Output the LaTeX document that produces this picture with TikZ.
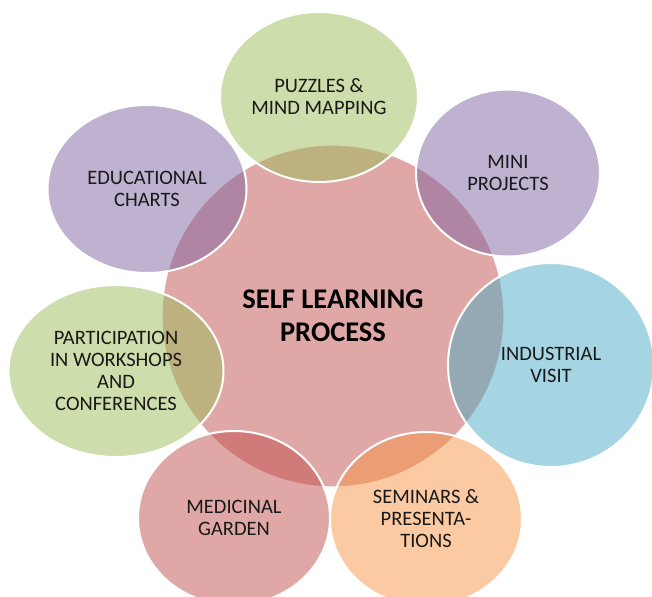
\documentclass[tikz,border=0pt]{standalone}
\usepackage{fontspec}
\setmainfont{Carlito}
\usetikzlibrary{shapes.geometric}

\definecolor{clRed}{HTML}{C0504D}
\definecolor{clGreen}{HTML}{9BBB59}
\definecolor{clPurple}{HTML}{8064A2}
\definecolor{clAqua}{HTML}{4BACC6}
\definecolor{clOrange}{HTML}{F79646}

\tikzset{
  hub/.style={circle, draw=white, line width=1.2pt, fill=clRed, fill opacity=0.5,
    text opacity=1, minimum size=342pt, inner sep=0pt, align=center, text=black,
    font=\bfseries\fontsize{28.5}{33}\selectfont},
  spoke/.style={ellipse, draw=white, line width=2pt, fill opacity=0.5,
    text opacity=1, inner sep=0pt, align=center, text=black!90,
    font=\fontsize{20.5}{22}\selectfont}
}

\begin{document}
\begin{tikzpicture}[x=1pt, y=-1pt]
  \useasboundingbox (0,0) rectangle (652,596);
  \clip (0,0) rectangle (652,596);

  % centre
  \node[hub] (self) at (333,316) {SELF LEARNING\\PROCESS};

  % surrounding activities
  \node[spoke, fill=clGreen, minimum width=198pt, minimum height=170pt] (puzzles) at (319,97) {PUZZLES \&\\MIND MAPPING};
  \node[spoke, fill=clPurple, minimum width=184pt, minimum height=167pt] (mini) at (508,173) {MINI\\PROJECTS};
  \node[spoke, fill=clAqua, minimum width=206pt, minimum height=204pt] (visit) at (551,365) {INDUSTRIAL\\VISIT};
  \node[spoke, fill=clOrange, minimum width=192pt, minimum height=174pt] (seminars) at (426,519) {SEMINARS \&\\PRESENTA-\\TIONS};
  \node[spoke, fill=clRed, minimum width=192pt, minimum height=174pt] (garden) at (234,518) {MEDICINAL\\GARDEN};
  \node[spoke, fill=clGreen, minimum width=215pt, minimum height=172pt] (workshops) at (116,371) {PARTICIPATION\\IN WORKSHOPS\\AND\\CONFERENCES};
  \node[spoke, fill=clPurple, minimum width=199pt, minimum height=168pt] (charts) at (147,189) {EDUCATIONAL\\CHARTS};
\end{tikzpicture}
\end{document}
